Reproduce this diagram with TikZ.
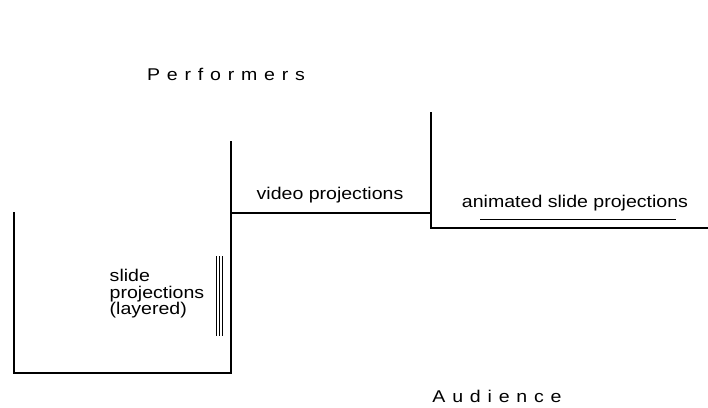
\documentclass[tikz,border=0pt]{standalone}
\usepackage{fontspec}
\setmainfont{Liberation Sans}[FakeStretch=1.15]
\usetikzlibrary{positioning}

\tikzset{
  wall/.style={line width=2.4pt},
  thinwall/.style={line width=1.2pt},
  label/.style={font=\fontsize{17}{16.5}\selectfont, inner sep=0pt},
  spaced/.style={font=\fontsize{17}{17}\selectfont\addfontfeature{LetterSpace=40}, inner sep=0pt}
}

\begin{document}
\begin{tikzpicture}[x=1pt,y=-1pt]
  \useasboundingbox (0,0) rectangle (708,407);
  % left box (slide projections)
  \draw[wall] (14,212) -- (14,373) -- (231,373) -- (231,141);
  % video screen step
  \draw[wall] (231,213) -- (260,213);
  \draw[thinwall] (260,213) -- (402,213);
  \draw[wall] (402,213) -- (431,213);
  % right stage
  \draw[wall] (431,112) -- (431,228) -- (708,228);
  \draw[line width=1pt] (480,219) -- (676,219);
  % layered slides
  \foreach \x in {216,219,222}
    \draw[line width=0.9pt] (\x,256) -- (\x,336);
  \node[spaced] (perf) at (226,74) {Performers};
  \node[spaced] (aud) at (497,396) {Audience};
  \node[label, align=left] (slides) at (157,294) {slide\\projections\\(layered)};
  \node[label] (video) at (330,195) {video projections};
  \node[label] (anim) at (575,203) {animated slide projections};
\end{tikzpicture}
\end{document}
